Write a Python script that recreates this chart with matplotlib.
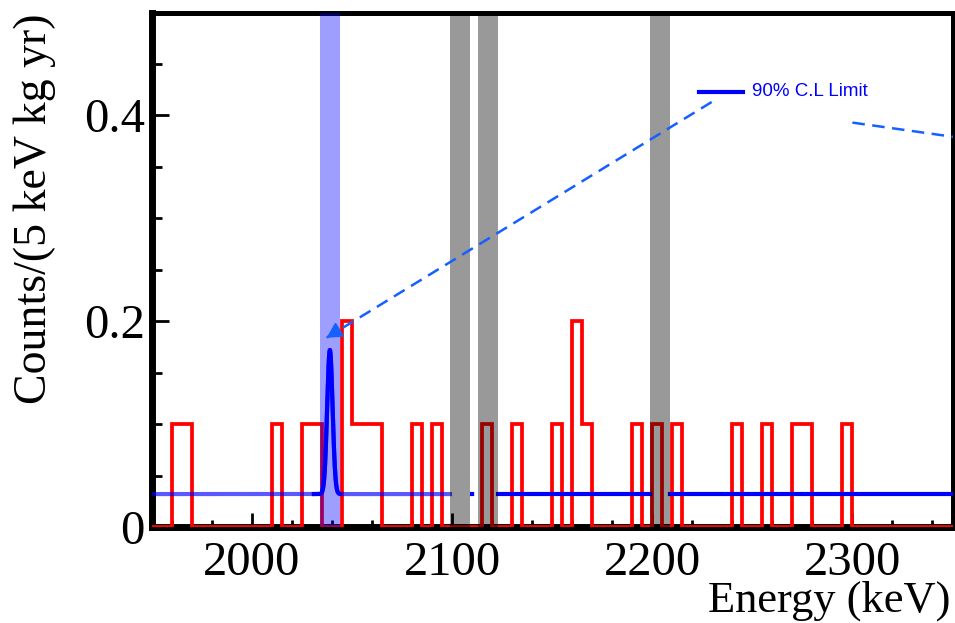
import numpy as np
import matplotlib.pyplot as plt
from matplotlib.ticker import MultipleLocator

# energy histogram, 5 keV bins from 1950 to 2350 keV
bin_edges = np.arange(1950, 2355, 5)
counts = [0, 0, 0.1, 0.1, 0, 0, 0, 0, 0, 0,
          0, 0, 0.1, 0, 0, 0.1, 0.1, 0, 0, 0.2,
          0.1, 0.1, 0.1, 0, 0, 0, 0.1, 0, 0.1, 0,
          0, 0, 0, 0.1, 0, 0, 0.1, 0, 0, 0,
          0.1, 0, 0.2, 0.1, 0, 0, 0, 0, 0.1, 0,
          0.1, 0, 0.1, 0, 0, 0, 0, 0, 0.1, 0,
          0, 0.1, 0, 0, 0.1, 0.1, 0, 0, 0, 0.1,
          0, 0, 0, 0, 0, 0, 0, 0, 0, 0]

# signal window and excluded gamma lines (keV)
roi = (2034, 2044)
excluded = [(2099, 2109), (2113, 2123), (2199, 2209)]

# 90% C.L. fit: flat background + peak at Q
bkg = 0.032
peak_amp = 0.140
peak_mu = 2039.0
peak_sigma = 1.35

# annotation arrows (energy, counts)
arrow_start = (2229.7, 0.413)
arrow_tip = (2037.4, 0.184)
arrow2 = [(2300.0, 0.393), (2362.0, 0.376)]

def fit(e):
    return bkg + peak_amp * np.exp(-0.5 * ((e - peak_mu) / peak_sigma) ** 2)

fig = plt.figure(figsize=(9.55, 6.23), dpi=100)
ax = fig.add_axes([151.7 / 955, 1 - 527 / 623, (952.5 - 151.7) / 955, (527 - 12.5) / 623])

ax.stairs(counts, bin_edges, color='#ff0000', lw=2.7, zorder=3)

# fit function, drawn outside the excluded bands
e1 = np.linspace(1950, 2099, 2000)
ax.plot(e1, fit(e1), color='#0000ff', lw=3, alpha=0.65, zorder=4)
e_pk = np.linspace(2031, 2044, 400)
ax.plot(e_pk, fit(e_pk), color='#0000ff', lw=3, zorder=4)
e2 = np.linspace(2109, 2113, 10)
ax.plot(e2, fit(e2), color='#0000ff', lw=3, ls=(0, (1, 1)), zorder=4)
e3 = np.linspace(2123, 2199, 50)
ax.plot(e3, fit(e3), color='#0000ff', lw=3, zorder=4)
e4 = np.linspace(2209, 2350, 50)
ax.plot(e4, fit(e4), color='#0000ff', lw=3, zorder=4)

ax.axvspan(*roi, color='#0000ff', alpha=0.38, lw=0, zorder=5)
for lo, hi in excluded:
    ax.axvspan(lo, hi, color='#000000', alpha=0.4, lw=0, zorder=5)

# arrows
acol = '#1560ff'
ax.plot([arrow_start[0], arrow_tip[0]], [arrow_start[1], arrow_tip[1]],
        color=acol, lw=1.8, ls=(0, (5, 3)), zorder=6)
ax.annotate('', xy=arrow_tip, xytext=(arrow_tip[0] + 6, arrow_tip[1] + 0.0072),
            arrowprops=dict(arrowstyle='-|>,head_length=0.9,head_width=0.5',
                            color=acol, lw=1.5, shrinkA=0, shrinkB=0), zorder=6)
ax.plot([p[0] for p in arrow2], [p[1] for p in arrow2],
        color=acol, lw=1.8, ls=(0, (5, 3)), zorder=6)

# legend entry
ax.plot([2223.3, 2245.3], [0.4232, 0.4232], color='#0000ff', lw=3, zorder=6)
ax.text(2249.8, 0.4232, '90% C.L Limit', color='#0000ff', fontsize=13.5,
        family='Liberation Sans', va='center', ha='left', zorder=6)

ax.set_xlim(1950, 2350)
ax.set_ylim(0, 0.5)
ax.xaxis.set_major_locator(MultipleLocator(100))
ax.xaxis.set_minor_locator(MultipleLocator(20))
ax.yaxis.set_minor_locator(MultipleLocator(0.05))
ax.set_yticks([0, 0.2, 0.4])
ax.set_yticklabels(['0', '0.2', '0.4'])

ax.tick_params(which='both', direction='in', width=2, top=False, right=False)
ax.tick_params(axis='x', which='major', length=10, pad=10)
ax.tick_params(axis='x', which='minor', length=5)
ax.tick_params(axis='y', which='major', length=12, pad=5)
ax.tick_params(axis='y', which='minor', length=7)
for lab in ax.get_xticklabels() + ax.get_yticklabels():
    lab.set_family('Liberation Serif')
    lab.set_fontsize(35)

ax.spines['left'].set_linewidth(5)
ax.spines['bottom'].set_linewidth(5)
ax.spines['top'].set_linewidth(3.6)
ax.spines['right'].set_linewidth(3.6)

fig.text(950 / 955, 11 / 623, 'Energy (keV)', family='Liberation Serif',
         fontsize=32, ha='right', va='baseline')
fig.text(13 / 955, 1 - 14 / 623, 'Counts/(5 keV kg yr)', family='Liberation Serif',
         fontsize=33, rotation=90, ha='left', va='top')

fig.savefig('out.png', dpi=100)
